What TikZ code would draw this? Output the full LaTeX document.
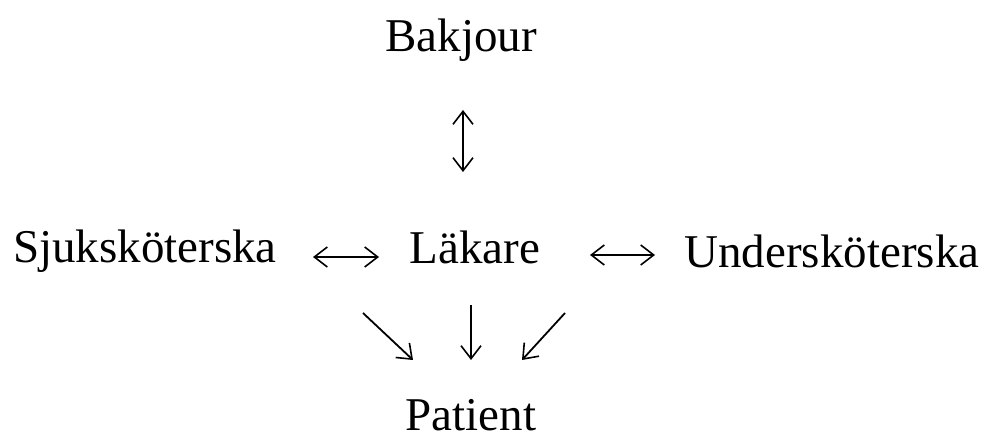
\documentclass[tikz,border=0pt]{standalone}
\usepackage{fontspec}
\setmainfont{Liberation Serif}
\usetikzlibrary{arrows.meta}
\begin{document}
\begin{tikzpicture}[x=1pt,y=-1pt,
  lbl/.style={font=\fontsize{47}{50}\selectfont, inner sep=0pt, anchor=base},
  tipstyle/.style={},
  arr/.style={line width=1.8pt, arrows={-Straight Barb[length=13pt,width=20pt,line width=1.6pt]}},
  darr/.style={line width=1.8pt, arrows={Straight Barb[length=13pt,width=20pt,line width=1.6pt]-Straight Barb[length=13pt,width=20pt,line width=1.6pt]}}]
\useasboundingbox (0,0) rectangle (986,436);
\node[lbl] (bak) at (461,52) {Bakjour};
\node[lbl] (sjuk) at (145,262) {Sjuksköterska};
\node[lbl] (lak) at (475,263) {Läkare};
\node[lbl] (under) at (832,267) {Undersköterska};
\node[lbl] (pat) at (471,430) {Patient};
\coordinate (v1) at (463,110);
\coordinate (v2) at (463,172);
\coordinate (h1a) at (313,257);
\coordinate (h1b) at (379,257);
\coordinate (h2a) at (590,255);
\coordinate (h2b) at (655,255);
\coordinate (l1) at (363,313);
\coordinate (l2) at (413,360);
\coordinate (c1) at (471,305);
\coordinate (c2) at (471,360);
\coordinate (r1) at (565,313);
\coordinate (r2) at (522,360);
\draw[darr] (v1) -- (v2);
\draw[darr] (h1a) -- (h1b);
\draw[darr] (h2a) -- (h2b);
\draw[arr] (l1) -- (l2);
\draw[arr] (c1) -- (c2);
\draw[arr] (r1) -- (r2);
\end{tikzpicture}
\end{document}
